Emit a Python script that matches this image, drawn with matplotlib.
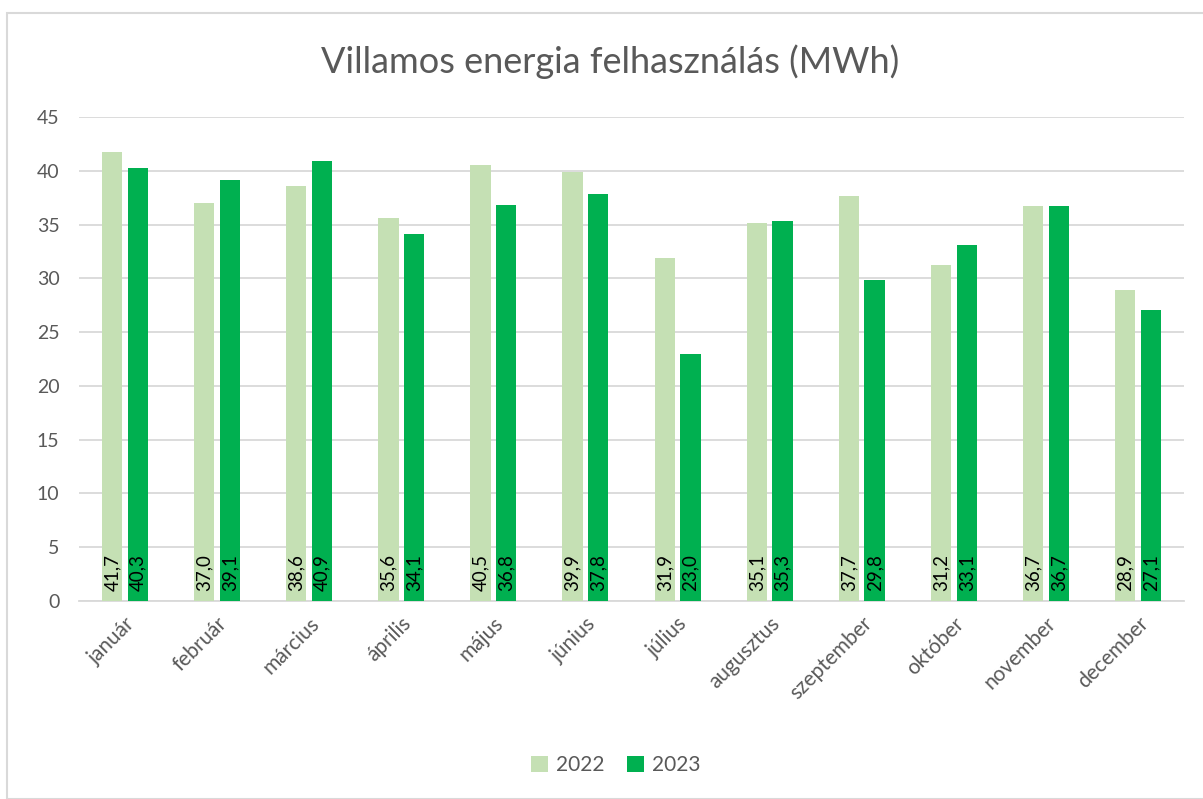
import matplotlib
matplotlib.use("Agg")
import matplotlib.pyplot as plt
import numpy as np
from matplotlib.patches import Rectangle

months = ["január", "február", "március", "április", "május", "június",
          "július", "augusztus", "szeptember", "október", "november", "december"]
v2022 = [41.7, 37.0, 38.6, 35.6, 40.5, 39.9, 31.9, 35.1, 37.7, 31.2, 36.7, 28.9]
v2023 = [40.3, 39.1, 40.9, 34.1, 36.8, 37.8, 23.0, 35.3, 29.8, 33.1, 36.7, 27.1]
series_labels = ["2022", "2023"]
title = "Villamos energia felhasználás (MWh)"

plt.rcParams['font.family'] = ['Lato', 'DejaVu Sans']
W, H = 1203, 799
fig = plt.figure(figsize=(W / 100, H / 100), dpi=100)

# outer frame
fig.patches.append(Rectangle((7 / W, 0), 1.2, (H - 13) / H, transform=fig.transFigure,
                             fill=False, edgecolor='#D9D9D9', linewidth=1.5))

ax = fig.add_axes([79 / W, 1 - 601 / H, (1184 - 79) / W, (601 - 117) / H])
x = np.arange(len(months))
bw = 0.22
off = 0.14
c1, c2 = '#C5E0B4', '#00B050'
b1 = ax.bar(x - off, v2022, bw, color=c1, label=series_labels[0], zorder=3)
b2 = ax.bar(x + off, v2023, bw, color=c2, label=series_labels[1], zorder=3)

fmt = lambda v: f"{v:.1f}".replace('.', ',')
for bars, vals in ((b1, v2022), (b2, v2023)):
    for r, v in zip(bars, vals):
        ax.text(r.get_x() + r.get_width() / 2, 0.9, fmt(v), rotation=90,
                ha='center', va='bottom', fontsize=13.5, color='black', zorder=4)

ax.set_xlim(-0.5, 11.5)
ax.set_ylim(0, 45)
ax.set_yticks(np.arange(0, 46, 5))
ax.yaxis.grid(True, color='#D9D9D9', linewidth=1.3, zorder=0)
ax.set_axisbelow(True)
for s in ['top', 'right', 'left']:
    ax.spines[s].set_visible(False)
ax.spines['bottom'].set_color('#D9D9D9')
ax.spines['bottom'].set_linewidth(1.3)
ax.tick_params(axis='both', length=0, colors='#595959')
ax.tick_params(axis='y', pad=14, labelsize=14)
ax.set_xticks(x)
ax.set_xticklabels(months, rotation=45, ha='right', rotation_mode='anchor')
ax.tick_params(axis='x', pad=9, labelsize=15)

fig.text(610 / W, 1 - 62 / H, title, ha='center', va='center', fontsize=26, color='#595959')

leg = fig.legend(handles=[b1, b2], labels=series_labels, loc='center',
                 bbox_to_anchor=(616 / W, 1 - 765 / H), ncol=2, frameon=False,
                 fontsize=15, handlelength=0.8, handleheight=0.8, handletextpad=0.4,
                 columnspacing=1.1)
for t in leg.get_texts():
    t.set_color('#595959')

fig.savefig('out.png', dpi=100)
